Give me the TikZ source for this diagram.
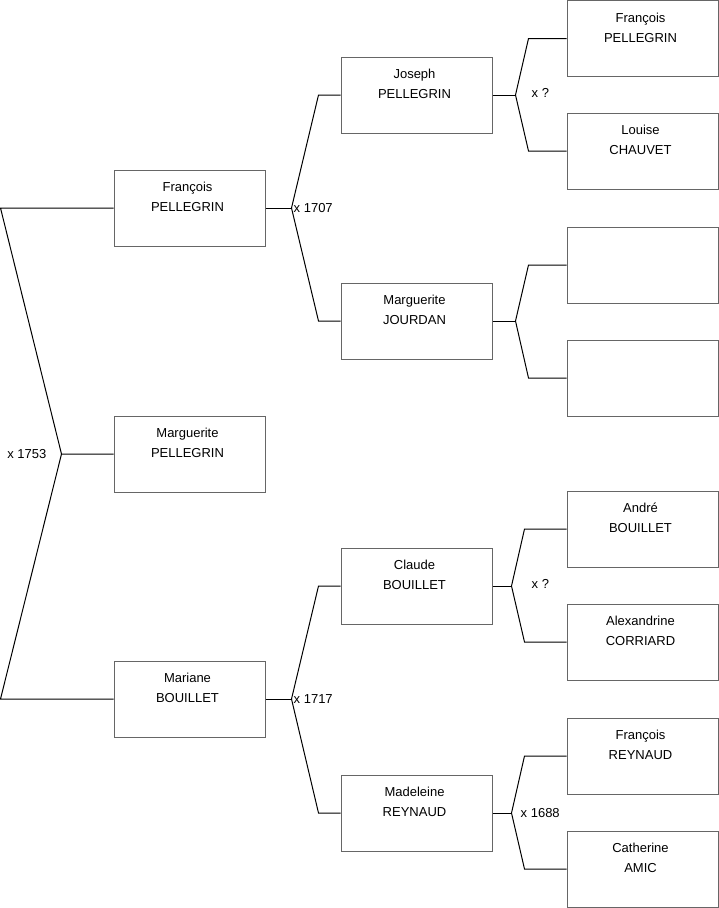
\documentclass[tikz,border=0pt]{standalone}
\usepackage{fontspec}
\setmainfont{Liberation Sans}

\tikzset{
  person/.style={draw=black!60, line width=1pt, minimum width=151pt, minimum height=76pt, inner sep=0pt,
    label={[anchor=north, xshift=-2pt, yshift=-12.5pt, align=center, inner sep=0pt, font=\fontsize{13}{20}\selectfont]north:#1}},
  person/.default={},
  link/.style={line width=1pt},
  wed/.style={inner sep=0pt, font=\fontsize{13}{16}\selectfont}
}

\begin{document}
\begin{tikzpicture}[x=1pt,y=-1pt]
\useasboundingbox (0,0) rectangle (719,908);
% children and their parents
\node[person={François\\PELLEGRIN}] (fp) at (189.5,208) {};
\node[person={Marguerite\\PELLEGRIN}] (mp) at (189.5,454) {};
\node[person={Mariane\\BOUILLET}] (mb) at (189.5,699) {};
\node[person={Joseph\\PELLEGRIN}] (jp) at (416.5,95) {};
\node[person={Marguerite\\JOURDAN}] (mj) at (416.5,321) {};
\node[person={Claude\\BOUILLET}] (cb) at (416.5,586) {};
\node[person={Madeleine\\REYNAUD}] (mr) at (416.5,813) {};
% grand parents
\node[person={François\\PELLEGRIN}] (fp2) at (642.5,38.5) {};
\node[person={Louise\\CHAUVET}] (lc) at (642.5,151) {};
\node[person] (e1) at (642.5,265) {};
\node[person] (e2) at (642.5,378) {};
\node[person={André\\BOUILLET}] (ab) at (642.5,529) {};
\node[person={Alexandrine\\CORRIARD}] (ac) at (642.5,642) {};
\node[person={François\\REYNAUD}] (fr) at (642.5,756) {};
\node[person={Catherine\\AMIC}] (ca) at (642.5,869) {};

% marriage brackets
\foreach \p/\a/\b/\d/\k in {fp/jp/mj/26/22, mb/cb/mr/26/22, jp/fp2/lc/23/38, mj/e1/e2/23/38, cb/ab/ac/19/42, mr/fr/ca/19/42} {
  \draw[link] (\p.east) -- ++(\d,0) coordinate (w\p);
  \draw[link] (\a.west) -- ++(-\k,0) -- (w\p) -- ([xshift=-\k pt]\b.west) -- (\b.west);
}
\coordinate (w53) at ([xshift=-52pt]mp.west);
\draw[link] (fp.west) -- ++(-113,0) -- (w53) -- (mp.west);
\draw[link] (w53) -- ([xshift=-113pt]mb.west) -- (mb.west);

\node[wed, anchor=east] (d1753) at ([xshift=-15pt]w53) {x 1753};
\node[wed, anchor=west] (d1707) at ([xshift=2pt]wfp) {x 1707};
\node[wed, anchor=west] (d1717) at ([xshift=2pt]wmb) {x 1717};
\node[wed, anchor=west] (djp) at ([xshift=16pt,yshift=2pt]wjp) {x ?};
\node[wed, anchor=west] (dcb) at ([xshift=20pt,yshift=2pt]wcb) {x ?};
\node[wed, anchor=west] (d1688) at ([xshift=9pt]wmr) {x 1688};
\end{tikzpicture}
\end{document}
